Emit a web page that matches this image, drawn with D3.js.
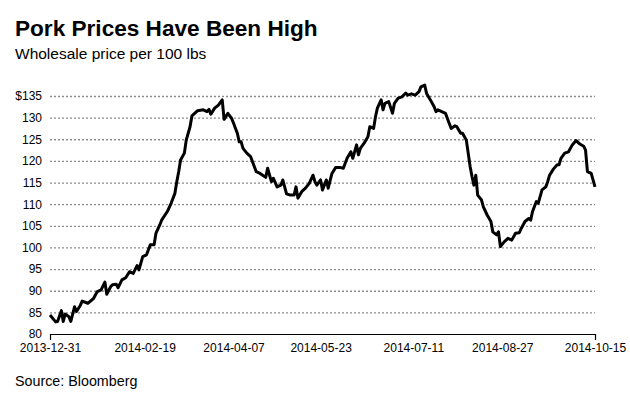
<!DOCTYPE html>
<html>
<head>
<meta charset="utf-8">
<script src="https://cdn.jsdelivr.net/npm/d3@7"></script>
<style>
  html, body { margin: 0; padding: 0; background: #fff; }
  svg { display: block; font-family: "Liberation Sans", Arial, Helvetica, sans-serif; }
</style>
</head>
<body>
<svg id="chart" width="630" height="400"></svg>
<script>
// Day offsets from 2013-12-31 and wholesale price per 100 lbs
const dayOffsets = [0,3,4,6,7,8,10,11,13,14,16,17,20,23,25,27,29,30,32,33,35,36,38,40,42,44,46,47,49,51,
  53,55,56,58,59,62,64,66,67,68,69,71,72,74,75,76,78,81,83,84,85,87,89,91,92,94,96,97,99,100,
  101,102,104,106,107,109,111,114,115,117,118,120,122,123,125,127,129,130,131,133,135,137,139,140,141,143,144,146,147,149,
  151,153,155,157,159,160,162,163,164,166,168,169,171,172,173,175,176,177,179,181,182,184,186,188,189,191,193,195,196,198,
  199,201,203,204,205,207,209,210,212,214,215,217,218,220,221,222,223,224,225,226,228,229,231,233,234,236,237,238,240,242,
  244,246,248,249,251,253,254,255,257,258,260,262,263,264,266,268,269,270,272,274,276,278,280,282,283,284,286,288];
const prices = [84.4,82.8,82.9,85.4,82.9,84.6,84.0,82.9,86.3,85.2,86.6,87.6,87.1,88.2,89.8,90.2,92.0,89.2,90.9,91.4,
  91.5,90.7,92.5,93.0,94.4,94.0,95.8,94.8,97.9,98.3,100.6,100.6,103.3,105.2,106.3,108.3,110.2,112.5,115.2,117.5,
  120.2,121.8,124.8,127.9,130.4,130.8,131.6,131.8,131.4,131.9,130.8,132.2,132.9,134.1,129.6,131.0,129.8,128.7,126.4,124.4,
  124.4,122.9,121.8,121.0,119.8,117.5,117.1,116.2,118.3,115.2,116.0,114.0,114.4,115.6,112.4,112.1,112.1,114.0,111.4,112.9,
  113.7,114.8,116.7,115.2,114.4,115.6,113.3,115.6,113.7,117.1,118.5,118.5,118.3,120.6,122.1,120.6,123.7,121.4,122.9,124.1,
  125.6,127.9,127.5,130.2,132.2,134.1,131.8,133.3,133.7,131.0,133.3,134.5,134.8,135.7,135.2,135.5,135.2,136.0,137.1,137.5,
  135.6,134.1,132.5,131.4,131.8,131.4,131.0,129.8,127.5,128.1,127.9,126.4,126.4,124.8,121.8,118.7,116.4,114.4,116.7,112.1,
  111.0,109.4,107.5,106.0,103.6,102.9,103.6,100.2,101.3,102.1,101.7,103.3,103.4,104.4,106.0,106.7,106.3,108.3,110.6,110.2,
  113.3,114.0,115.2,116.7,118.1,119.1,119.1,120.6,121.8,122.1,123.7,124.7,123.9,123.4,122.5,117.5,117.1,114.0];
const startDate = "2013-12-31";
const endDate = "2014-10-15";
const xTickLabels = ["2013-12-31","2014-02-19","2014-04-07","2014-05-23","2014-07-11","2014-08-27","2014-10-15"];
const yTicks = [80,85,90,95,100,105,110,115,120,125,130,135];
const titleText = "Pork Prices Have Been High";
const subtitleText = "Wholesale price per 100 lbs";
const sourceText = "Source: Bloomberg";

const parse = d3.timeParse("%Y-%m-%d");
const fmt = d3.timeFormat("%Y-%m-%d");
const t0 = parse(startDate);
const data = dayOffsets.map((d, i) => ({ date: d3.timeDay.offset(t0, d), value: prices[i] }));

const svg = d3.select("#chart");
const margin = { left: 50, right: 35, top: 96, bottom: 66 };
const W = 630, H = 400;

const x = d3.scaleTime().domain([t0, parse(endDate)]).range([margin.left, W - margin.right]);
const y = d3.scaleLinear().domain([80, 135]).range([H - margin.bottom, margin.top]);

// Title / subtitle
svg.append("text").attr("x", 15).attr("y", 36)
  .attr("font-size", 22.6).attr("font-weight", "bold").attr("fill", "#000").text(titleText);
svg.append("text").attr("x", 15).attr("y", 59)
  .attr("font-size", 15.5).attr("fill", "#000").text(subtitleText);

// Gridlines (dotted)
svg.append("g").selectAll("line").data(yTicks.filter(v => v !== 80)).join("line")
  .attr("x1", x.range()[0]).attr("x2", x.range()[1])
  .attr("y1", d => y(d) + 0.5).attr("y2", d => y(d) + 0.5)
  .attr("stroke", "#8c8c8c").attr("stroke-width", 1.3).attr("stroke-dasharray", "2,2");

// Y axis labels
const yAxis = d3.axisLeft(y).tickValues(yTicks).tickSize(0).tickPadding(8)
  .tickFormat(d => d === 135 ? "$135" : String(d));
const gy = svg.append("g").attr("transform", `translate(${margin.left},0)`).call(yAxis);
gy.select(".domain").remove();
gy.selectAll("text").attr("font-size", 12).attr("fill", "#000")
  .attr("font-family", "'Liberation Sans', Arial, sans-serif");

// X axis
const xAxis = d3.axisBottom(x).tickValues(xTickLabels.map(parse)).tickSize(0).tickPadding(9)
  .tickFormat(fmt);
const gx = svg.append("g").attr("transform", `translate(0,${y(80)})`).call(xAxis);
gx.select(".domain").remove();
gx.selectAll("text").attr("font-size", 12).attr("fill", "#000")
  .attr("font-family", "'Liberation Sans', Arial, sans-serif");
// baseline and end ticks
svg.append("line").attr("x1", x.range()[0]).attr("x2", x.range()[1])
  .attr("y1", y(80) + 0.5).attr("y2", y(80) + 0.5).attr("stroke", "#000").attr("stroke-width", 1.2);
[x.range()[0], x.range()[1]].forEach(px => {
  svg.append("line").attr("x1", px + 0.5).attr("x2", px + 0.5)
    .attr("y1", y(80)).attr("y2", y(80) + 6).attr("stroke", "#000").attr("stroke-width", 1.2);
});

// Line
const line = d3.line().x(d => x(d.date)).y(d => y(d.value));
svg.append("path").datum(data).attr("d", line)
  .attr("fill", "none").attr("stroke", "#000").attr("stroke-width", 3)
  .attr("stroke-linejoin", "round").attr("stroke-linecap", "butt");

// Source
svg.append("text").attr("x", 15).attr("y", 386)
  .attr("font-size", 14.3).attr("fill", "#000").text(sourceText);
</script>
</body>
</html>
